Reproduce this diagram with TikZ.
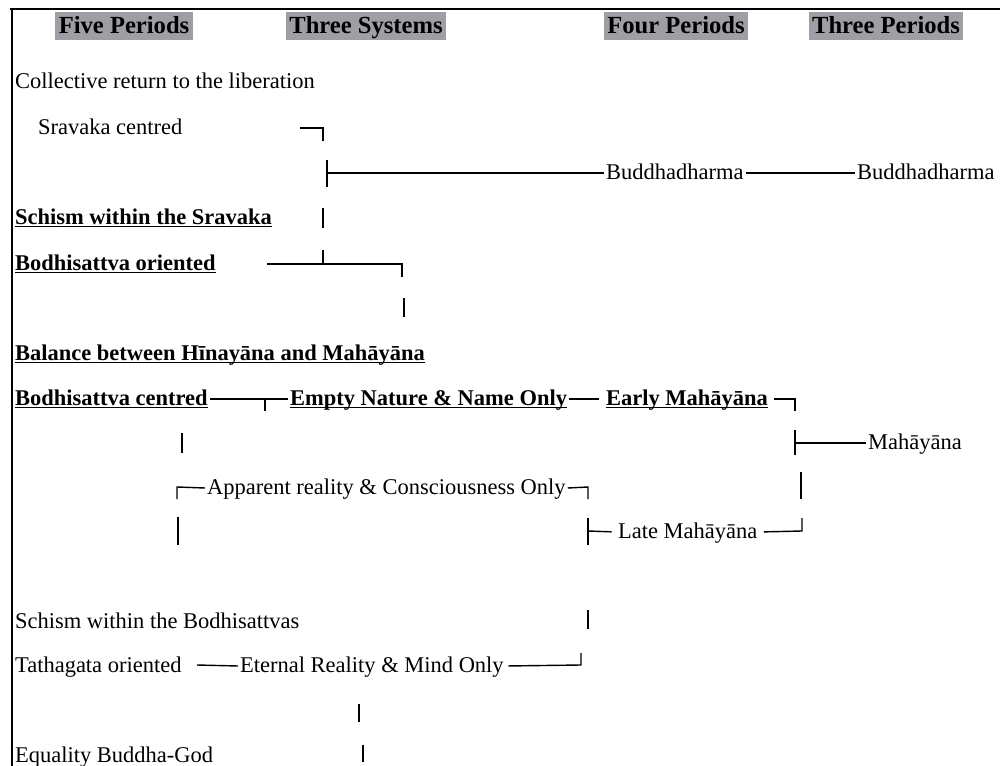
\documentclass[tikz,border=0pt]{standalone}
\usepackage{fontspec}
\setmainfont{Liberation Serif}
\usepackage{tikz}

\definecolor{headgray}{RGB}{158,158,164}
\newcommand{\ulword}[1]{\setbox0\hbox{#1}\rlap{\rule[-1.7pt]{\wd0}{0.7pt}}\box0}

\begin{document}
\begin{tikzpicture}[
    x=0.02cm, y=-0.02cm,
    every node/.style={
        font=\fontsize{12.8}{15}\selectfont
    },
    heading/.style={
        font=\fontsize{14}{16}\selectfont\bfseries,
        fill=headgray,
        inner xsep=2pt, inner ysep=0pt,
        minimum height=0.56cm,
        text height=10pt, text depth=2pt
    },
    entry/.style={
        anchor=west,
        inner sep=1pt,
        text height=8.5pt, text depth=1.5pt
    },
    keyentry/.style={
        entry,
        font=\fontsize{12.8}{15}\selectfont\bfseries
    },
    link/.style={
        line width=0.8pt
    }
]
\useasboundingbox (0,0) rectangle (1000,766);

% frame
\draw[line width=0.8pt] (10,9) -- (1000,9);
\draw[line width=1.1pt] (12,9) -- (12,766);

% headings
\node (hfive)  [heading] at (124,26) {Five Periods};
\node (hsys)   [heading] at (366,26) {Three Systems};
\node (hfour)  [heading] at (676,26) {Four Periods};
\node (hthree) [heading] at (886,26) {Three Periods};

% five periods
\node (coll)  [entry]    at (13,82)  {Collective return to the liberation};
\node (srav)  [entry]    at (36,128) {Sravaka centred};
\node (schs)  [keyentry] at (13,218) {\ulword{Schism within the Sravaka}};
\node (bori)  [keyentry] at (13,264) {\ulword{Bodhisattva oriented}};
\node (bal)   [keyentry] at (13,354) {\ulword{Balance between Hīnayāna and Mahāyāna}};
\node (bcen)  [keyentry] at (13,399) {\ulword{Bodhisattva centred}};
\node (schb)  [entry]    at (13,622) {Schism within the Bodhisattvas};
\node (tath)  [entry]    at (13,666) {Tathagata oriented};
\node (equal) [entry]    at (13,756) {Equality Buddha-God};

% three systems
\node (empty) [keyentry] at (288,399) {\ulword{Empty Nature \& Name Only}};
\node (appar) [entry]    at (205,488) {Apparent reality \& Consciousness Only};
\node (eter)  [entry]    at (238,666) {Eternal Reality \& Mind Only};

% four periods
\node (bd1)   [entry]    at (604,173) {Buddhadharma};
\node (early) [keyentry] at (604,399) {\ulword{Early Mahāyāna}};
\node (late)  [entry]    at (616,532) {Late Mahāyāna};

% three periods
\node (bd2)   [entry]    at (855,173) {Buddhadharma};
\node (maha)  [entry]    at (866,443) {Mahāyāna};

% brackets
\draw[link] (300,128) -- (323,128) -- (323,141);
\draw[link] (327,160) -- (327,187);
\draw[link] (327,173) -- (bd1.west);
\draw[link] (bd1.east) -- (bd2.west);
\draw[link] (323,208) -- (323,228);
\draw[link] (267,264) -- (402,264) -- (402,277);
\draw[link] (323,264) -- (323,250);
\draw[link] (404,298) -- (404,317);

\draw[link] (bcen.east) -- (empty.west);
\draw[link] (265,399) -- (265,411);
\draw[link, shorten >=3pt] (empty.east) -- (early.west);
\draw[link, shorten <=2.5pt] (early.east) -- (795,399) -- (795,411);
\draw[link] (182,433) -- (182,453);
\draw[link] (795,430) -- (795,455);
\draw[link] (795,443) -- (maha.west);

\draw[link] (177,499) -- (177,487) -- (appar.west);
\draw[link] (appar.east) -- (588,487) -- (588,499);
\draw[line width=1.1pt] (178,517) -- (178,545);
\draw[line width=1.1pt] (801,472) -- (801,499);
\draw[link] (588,518) -- (588,545);
\draw[link, shorten >=2.5pt] (588,531) -- (late.west);
\draw[link, shorten <=2.5pt] (late.east) -- (802,531) -- (802,518);

\draw[link] (588,610) -- (588,629);
\draw[link] (197,665) -- (eter.west);
\draw[link, shorten <=1.5pt] (eter.east) -- (581,665) -- (581,653);
\draw[link] (359,704) -- (359,722);
\draw[link] (363,745) -- (363,762);
\end{tikzpicture}
\end{document}
